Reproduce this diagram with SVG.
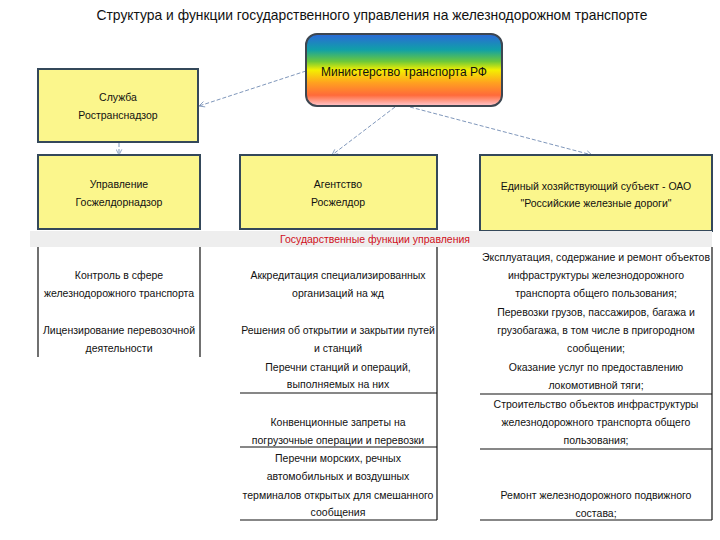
<svg xmlns="http://www.w3.org/2000/svg" width="720" height="540" viewBox="0 0 720 540">
<defs>
<linearGradient id="rainbow" x1="0" y1="0" x2="0" y2="1">
<stop offset="0" stop-color="#2c68d8"/>
<stop offset="0.22" stop-color="#10a0a8"/>
<stop offset="0.38" stop-color="#6cc83a"/>
<stop offset="0.5" stop-color="#f4f000"/>
<stop offset="0.68" stop-color="#ffa020"/>
<stop offset="0.85" stop-color="#ff6a3a"/>
<stop offset="1" stop-color="#ffc8d0"/>
</linearGradient>
<marker id="arr" viewBox="0 0 10 10" refX="9" refY="5" markerWidth="7" markerHeight="7" orient="auto" markerUnits="userSpaceOnUse">
<path d="M1,1 L9,5 L1,9" fill="none" stroke="#7f97bb" stroke-width="1.2"/>
</marker>
</defs>
<style>
.t{font-family:"Liberation Sans",Arial,sans-serif;font-size:10.5px;fill:#111;text-anchor:middle}
.box{fill:#fbf68c;stroke:#34485a;stroke-width:2}
.conn{fill:none;stroke:#7f97bb;stroke-width:1;stroke-dasharray:4 2}
.grid{stroke:#111;stroke-width:1.2;fill:none}
</style>
<rect width="720" height="540" fill="#ffffff"/>
<text x="372" y="20" style="font-family:'Liberation Sans',Arial,sans-serif;font-size:14.5px;fill:#111;text-anchor:middle" textLength="551" lengthAdjust="spacingAndGlyphs">Структура и функции государственного управления на железнодорожном транспорте</text>

<g id="connectors">
<line class="conn" x1="306" y1="71" x2="199" y2="106" marker-end="url(#arr)"/>
<line class="conn" x1="395" y1="107" x2="332" y2="155" marker-end="url(#arr)"/>
<line class="conn" x1="410" y1="107" x2="592" y2="155" marker-end="url(#arr)"/>
<line class="conn" x1="119" y1="143" x2="119" y2="155" marker-end="url(#arr)" stroke-dasharray="none"/>
</g>

<g id="ministry">
<rect x="306" y="34" width="196" height="72" rx="11" fill="url(#rainbow)" stroke="#3d4650" stroke-width="2"/>
<text class="t" x="404" y="76" style="font-size:12px">Министерство транспорта  РФ</text>
</g>

<g id="sluzhba">
<rect class="box" x="38" y="69" width="160" height="73"/>
<text class="t" x="118" y="101">Служба</text>
<text class="t" x="118" y="119">Ространснадзор</text>
</g>

<g id="upravlenie">
<rect class="box" x="38" y="155" width="162" height="74"/>
<text class="t" x="119" y="188">Управление</text>
<text class="t" x="119" y="206">Госжелдорнадзор</text>
</g>

<g id="agentstvo">
<rect class="box" x="240" y="155" width="197" height="74"/>
<text class="t" x="338" y="188">Агентство</text>
<text class="t" x="338" y="206">Росжелдор</text>
</g>

<g id="rzd">
<rect class="box" x="480" y="155" width="232" height="76"/>
<text class="t" x="596" y="190">Единый хозяйствующий субъект - ОАО</text>
<text class="t" x="596" y="207">"Российские железные дороги"</text>
</g>

<g id="band">
<rect x="30" y="231" width="682" height="16" fill="#eeeeee"/>
<text class="t" x="375" y="243" style="fill:#d0101a">Государственные функции управления</text>
</g>

<g id="table">
<line class="grid" x1="38" y1="247" x2="38" y2="357"/>
<line class="grid" x1="200" y1="247" x2="200" y2="357"/>
<line class="grid" x1="437" y1="247" x2="437" y2="520"/>
<line class="grid" x1="712" y1="247" x2="712" y2="520"/>
<line class="grid" x1="240" y1="393" x2="437" y2="393"/>
<line class="grid" x1="240" y1="447" x2="437" y2="447"/>
<line class="grid" x1="240" y1="520" x2="437" y2="520"/>
<line class="grid" x1="480" y1="394" x2="712" y2="394"/>
<line class="grid" x1="480" y1="449" x2="712" y2="449"/>
<line class="grid" x1="480" y1="520" x2="712" y2="520"/>
</g>

<g id="col1">
<text class="t" x="119" y="279">Контроль в сфере</text>
<text class="t" x="119" y="297">железнодорожного транспорта</text>
<text class="t" x="119" y="334">Лицензирование перевозочной</text>
<text class="t" x="119" y="352">деятельности</text>
</g>

<g id="col2">
<text class="t" x="338" y="279">Аккредитация специализированных</text>
<text class="t" x="338" y="297">организаций на жд</text>
<text class="t" x="338" y="334">Решения об открытии и закрытии путей</text>
<text class="t" x="338" y="352">и станций</text>
<text class="t" x="338" y="371">Перечни станций и операций,</text>
<text class="t" x="338" y="388">выполняемых на них</text>
<text class="t" x="338" y="426">Конвенционные запреты на</text>
<text class="t" x="338" y="444">погрузочные операции и перевозки</text>
<text class="t" x="338" y="462">Перечни морских, речных</text>
<text class="t" x="338" y="480">автомобильных и воздушных</text>
<text class="t" x="338" y="499">терминалов открытых для смешанного</text>
<text class="t" x="338" y="516">сообщения</text>
</g>

<g id="col3">
<text class="t" x="596" y="261" textLength="228" lengthAdjust="spacingAndGlyphs">Эксплуатация, содержание и ремонт объектов</text>
<text class="t" x="596" y="279">инфраструктуры железнодорожного</text>
<text class="t" x="596" y="297">транспорта общего пользования;</text>
<text class="t" x="596" y="316">Перевозки грузов, пассажиров, багажа и</text>
<text class="t" x="596" y="334">грузобагажа, в том числе в пригородном</text>
<text class="t" x="596" y="352">сообщении;</text>
<text class="t" x="596" y="371">Оказание услуг по предоставлению</text>
<text class="t" x="596" y="389">локомотивной тяги;</text>
<text class="t" x="596" y="408">Строительство объектов инфраструктуры</text>
<text class="t" x="596" y="426">железнодорожного транспорта общего</text>
<text class="t" x="596" y="444">пользования;</text>
<text class="t" x="596" y="499">Ремонт железнодорожного подвижного</text>
<text class="t" x="596" y="517">состава;</text>
</g>
</svg>
